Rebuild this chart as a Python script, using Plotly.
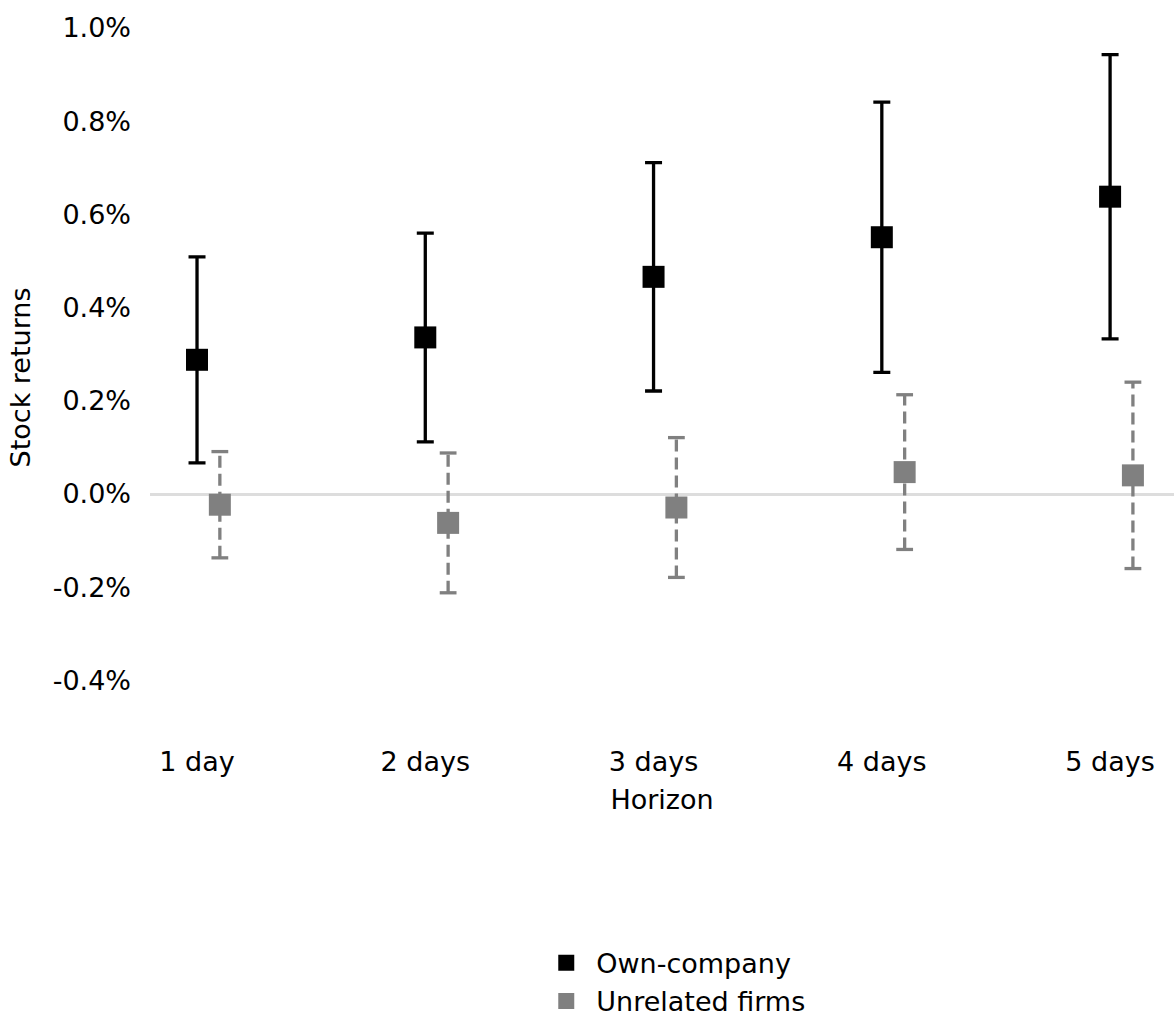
import plotly.graph_objects as go

# ---- data (values in percent) ----
categories = ["1 day", "2 days", "3 days", "4 days", "5 days"]
horizon = [1, 2, 3, 4, 5]
own_company = [0.288, 0.336, 0.466, 0.551, 0.638]
own_company_ci = [0.221, 0.224, 0.245, 0.290, 0.305]
unrelated_firms = [-0.023, -0.062, -0.029, 0.047, 0.040]
unrelated_firms_ci = [0.114, 0.150, 0.150, 0.166, 0.200]
y_tick_values = [-0.4, -0.2, 0.0, 0.2, 0.4, 0.6, 0.8, 1.0]
y_tick_labels = ["-0.4%", "-0.2%", "0.0%", "0.2%", "0.4%", "0.6%", "0.8%", "1.0%"]

DODGE = 0.1
BLACK = "#000000"
GREY = "#808080"
FONT = "DejaVu Sans"
FS = 27

x_unrel = [h + DODGE for h in horizon]

fig = go.Figure()

# Own-company: solid error bars
fig.add_trace(go.Scatter(
    x=horizon, y=own_company, mode="markers", name="Own-company",
    marker=dict(symbol="square", size=22, color=BLACK, line=dict(width=0)),
    error_y=dict(type="data", array=own_company_ci, visible=True,
                 color=BLACK, thickness=3.3, width=8.5),
))

# Unrelated firms: dashed error bars built from the data arrays
seg_x, seg_y = [], []
for x, y, e in zip(x_unrel, unrelated_firms, unrelated_firms_ci):
    seg_x += [x, x, None]
    seg_y += [y - e, y + e, None]
fig.add_trace(go.Scatter(
    x=seg_x, y=seg_y, mode="lines", showlegend=False, hoverinfo="skip",
    line=dict(color=GREY, width=3.3, dash="12px,6px"),
))
cap_x = x_unrel + x_unrel
cap_y = [y + e for y, e in zip(unrelated_firms, unrelated_firms_ci)] + \
        [y - e for y, e in zip(unrelated_firms, unrelated_firms_ci)]
fig.add_trace(go.Scatter(
    x=cap_x, y=cap_y, mode="markers", showlegend=False, hoverinfo="skip",
    marker=dict(symbol="line-ew", size=12, color=GREY, line=dict(color=GREY, width=3.3)),
))
fig.add_trace(go.Scatter(
    x=x_unrel, y=unrelated_firms, mode="markers", name="Unrelated firms",
    marker=dict(symbol="square", size=22, color=GREY, line=dict(width=0)),
))

fig.update_layout(
    width=1174, height=1017,
    margin=dict(l=150, r=0, t=28, b=290, autoexpand=False),
    paper_bgcolor="white", plot_bgcolor="white",
    font=dict(family=FONT, size=FS, color="black"),
    showlegend=True,
    legend=dict(orientation="v", x=0.511, xanchor="center", y=-0.303, yanchor="top",
                font=dict(size=FS), bgcolor="rgba(0,0,0,0)", tracegroupgap=0,
                itemwidth=50),
)
fig.update_xaxes(
    range=[0.794, 5.28], tickvals=horizon, ticktext=categories,
    showgrid=False, zeroline=False, showline=False, ticks="",
    ticklabelstandoff=16,
    title=dict(text="Horizon", standoff=14, font=dict(size=FS)),
)
fig.update_yaxes(
    range=[-0.5, 1.0], tickvals=y_tick_values, ticktext=y_tick_labels,
    showgrid=False, zeroline=True, zerolinecolor="#dddddd", zerolinewidth=3,
    showline=False, ticks="", ticklabelstandoff=18,
    title=dict(text="Stock returns", standoff=14, font=dict(size=FS)),
)

fig.write_html("out.html", config={"displayModeBar": False},
               post_script="document.body.style.margin='0px';")
